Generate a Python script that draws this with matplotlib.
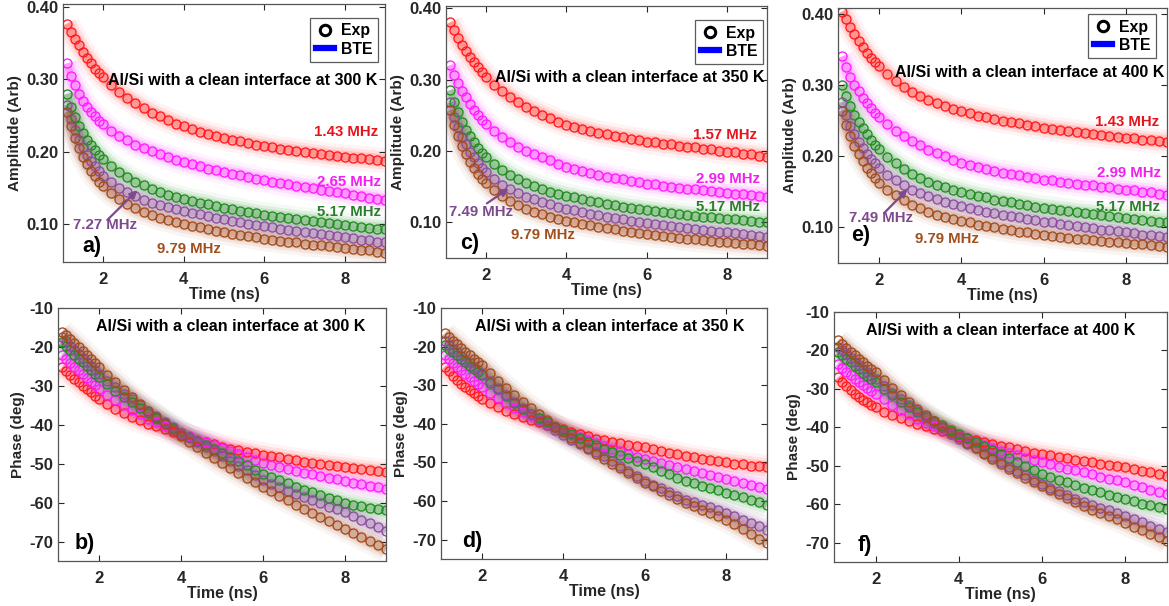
import matplotlib
matplotlib.use("Agg")
import matplotlib.pyplot as plt
from matplotlib.lines import Line2D

plt.rcParams['font.family'] = ['Liberation Sans', 'DejaVu Sans']
plt.rcParams['font.weight'] = 'bold'

# ---------------- data ----------------
T = [1.1, 1.2, 1.3, 1.4, 1.5, 1.6, 1.7, 1.8, 1.9, 2.0,
     2.2, 2.4, 2.6, 2.8, 3.0, 3.2, 3.4, 3.6, 3.8, 4.0,
     4.2, 4.4, 4.6, 4.8, 5.0, 5.2, 5.4, 5.6, 5.8, 6.0,
     6.2, 6.4, 6.6, 6.8, 7.0, 7.2, 7.4, 7.6, 7.8, 8.0,
     8.2, 8.4, 8.6, 8.8, 9.0]

# amplitude, 300 K
a_red = [0.377, 0.366, 0.356, 0.347, 0.338, 0.330, 0.322, 0.315, 0.309, 0.303,
         0.292, 0.282, 0.274, 0.267, 0.260, 0.254, 0.249, 0.244, 0.239, 0.235,
         0.231, 0.228, 0.225, 0.222, 0.219, 0.217, 0.215, 0.212, 0.210, 0.208,
         0.206, 0.204, 0.203, 0.201, 0.200, 0.198, 0.197, 0.195, 0.194, 0.193,
         0.192, 0.191, 0.190, 0.189, 0.188]
a_mag = [0.322, 0.305, 0.292, 0.280, 0.270, 0.262, 0.255, 0.249, 0.243, 0.238,
         0.229, 0.222, 0.216, 0.210, 0.205, 0.201, 0.197, 0.193, 0.189, 0.186,
         0.183, 0.180, 0.177, 0.175, 0.172, 0.170, 0.168, 0.165, 0.163, 0.161,
         0.159, 0.157, 0.155, 0.153, 0.151, 0.150, 0.148, 0.146, 0.145, 0.143,
         0.141, 0.139, 0.137, 0.135, 0.133]
a_grn = [0.280, 0.262, 0.248, 0.236, 0.226, 0.217, 0.209, 0.202, 0.196, 0.190,
         0.180, 0.172, 0.165, 0.159, 0.154, 0.149, 0.145, 0.141, 0.138, 0.135,
         0.132, 0.130, 0.128, 0.125, 0.123, 0.121, 0.119, 0.117, 0.115, 0.113,
         0.112, 0.110, 0.109, 0.107, 0.106, 0.105, 0.103, 0.102, 0.100, 0.099,
         0.098, 0.096, 0.095, 0.094, 0.093]
a_pur = [0.265, 0.245, 0.230, 0.217, 0.206, 0.196, 0.188, 0.180, 0.173, 0.167,
         0.158, 0.150, 0.144, 0.139, 0.134, 0.130, 0.127, 0.124, 0.121, 0.118,
         0.116, 0.114, 0.111, 0.109, 0.107, 0.105, 0.103, 0.101, 0.099, 0.097,
         0.096, 0.094, 0.092, 0.091, 0.089, 0.088, 0.086, 0.085, 0.084, 0.082,
         0.081, 0.079, 0.078, 0.076, 0.075]
a_brn = [0.255, 0.235, 0.219, 0.205, 0.193, 0.183, 0.174, 0.166, 0.159, 0.153,
         0.143, 0.135, 0.128, 0.122, 0.117, 0.113, 0.109, 0.106, 0.103, 0.100,
         0.098, 0.096, 0.093, 0.091, 0.089, 0.087, 0.085, 0.084, 0.082, 0.080,
         0.079, 0.077, 0.076, 0.075, 0.073, 0.072, 0.071, 0.070, 0.069, 0.067,
         0.066, 0.065, 0.064, 0.062, 0.061]

# amplitude, 350 K
c_red = [0.380, 0.369, 0.358, 0.349, 0.340, 0.332, 0.324, 0.317, 0.310, 0.304,
         0.293, 0.284, 0.276, 0.268, 0.262, 0.256, 0.251, 0.246, 0.241, 0.237,
         0.234, 0.231, 0.228, 0.225, 0.223, 0.221, 0.219, 0.217, 0.215, 0.213,
         0.212, 0.210, 0.209, 0.207, 0.206, 0.205, 0.203, 0.202, 0.200, 0.199,
         0.198, 0.196, 0.195, 0.193, 0.192]
c_mag = [0.320, 0.306, 0.295, 0.284, 0.275, 0.266, 0.258, 0.251, 0.244, 0.238,
         0.228, 0.220, 0.213, 0.206, 0.200, 0.195, 0.191, 0.187, 0.182, 0.178,
         0.175, 0.172, 0.169, 0.166, 0.164, 0.162, 0.160, 0.158, 0.156, 0.154,
         0.153, 0.151, 0.150, 0.148, 0.147, 0.146, 0.145, 0.144, 0.142, 0.141,
         0.140, 0.139, 0.138, 0.137, 0.136]
c_grn = [0.285, 0.268, 0.254, 0.241, 0.230, 0.221, 0.212, 0.204, 0.197, 0.191,
         0.181, 0.173, 0.166, 0.160, 0.155, 0.151, 0.147, 0.143, 0.140, 0.137,
         0.135, 0.132, 0.130, 0.128, 0.126, 0.124, 0.122, 0.120, 0.119, 0.117,
         0.116, 0.114, 0.113, 0.111, 0.110, 0.109, 0.108, 0.107, 0.106, 0.105,
         0.104, 0.103, 0.102, 0.101, 0.100]
c_pur = [0.268, 0.248, 0.233, 0.220, 0.209, 0.199, 0.191, 0.183, 0.176, 0.170,
         0.160, 0.152, 0.146, 0.141, 0.136, 0.132, 0.129, 0.125, 0.122, 0.119,
         0.117, 0.115, 0.112, 0.110, 0.108, 0.106, 0.104, 0.102, 0.101, 0.099,
         0.098, 0.096, 0.095, 0.093, 0.092, 0.091, 0.089, 0.088, 0.087, 0.086,
         0.085, 0.083, 0.082, 0.081, 0.080]
c_brn = [0.257, 0.237, 0.221, 0.207, 0.195, 0.185, 0.176, 0.168, 0.161, 0.155,
         0.145, 0.137, 0.130, 0.124, 0.119, 0.115, 0.111, 0.108, 0.105, 0.102,
         0.100, 0.098, 0.096, 0.094, 0.092, 0.090, 0.088, 0.087, 0.085, 0.084,
         0.082, 0.081, 0.080, 0.078, 0.077, 0.076, 0.075, 0.074, 0.073, 0.072,
         0.071, 0.070, 0.069, 0.068, 0.067]

# amplitude, 400 K
e_red = [0.403, 0.392, 0.381, 0.371, 0.362, 0.353, 0.345, 0.338, 0.332, 0.326,
         0.315, 0.305, 0.297, 0.290, 0.284, 0.279, 0.275, 0.271, 0.266, 0.263,
         0.260, 0.257, 0.255, 0.252, 0.250, 0.248, 0.246, 0.244, 0.242, 0.240,
         0.238, 0.237, 0.235, 0.234, 0.232, 0.231, 0.230, 0.228, 0.227, 0.226,
         0.225, 0.223, 0.222, 0.221, 0.220]
e_mag = [0.340, 0.325, 0.311, 0.300, 0.291, 0.282, 0.274, 0.267, 0.261, 0.255,
         0.245, 0.236, 0.228, 0.221, 0.215, 0.209, 0.204, 0.200, 0.195, 0.191,
         0.188, 0.185, 0.182, 0.179, 0.177, 0.175, 0.173, 0.171, 0.169, 0.167,
         0.166, 0.164, 0.163, 0.161, 0.160, 0.159, 0.157, 0.156, 0.154, 0.153,
         0.152, 0.150, 0.149, 0.147, 0.146]
e_grn = [0.300, 0.284, 0.270, 0.258, 0.248, 0.239, 0.231, 0.223, 0.216, 0.210,
         0.199, 0.190, 0.182, 0.175, 0.169, 0.164, 0.160, 0.156, 0.153, 0.150,
         0.147, 0.144, 0.142, 0.139, 0.137, 0.135, 0.133, 0.131, 0.129, 0.127,
         0.126, 0.124, 0.123, 0.121, 0.120, 0.119, 0.117, 0.116, 0.115, 0.113,
         0.112, 0.111, 0.109, 0.108, 0.107]
e_pur = [0.276, 0.258, 0.243, 0.231, 0.220, 0.211, 0.203, 0.196, 0.190, 0.184,
         0.174, 0.166, 0.159, 0.153, 0.148, 0.144, 0.140, 0.136, 0.133, 0.130,
         0.127, 0.125, 0.122, 0.120, 0.118, 0.116, 0.114, 0.112, 0.110, 0.108,
         0.107, 0.105, 0.103, 0.102, 0.100, 0.099, 0.097, 0.096, 0.095, 0.093,
         0.092, 0.090, 0.089, 0.088, 0.086]
e_brn = [0.264, 0.244, 0.228, 0.214, 0.203, 0.193, 0.184, 0.176, 0.169, 0.163,
         0.153, 0.145, 0.138, 0.132, 0.127, 0.122, 0.118, 0.115, 0.112, 0.109,
         0.107, 0.104, 0.102, 0.100, 0.098, 0.096, 0.094, 0.093, 0.091, 0.090,
         0.088, 0.087, 0.085, 0.084, 0.083, 0.082, 0.081, 0.080, 0.079, 0.078,
         0.077, 0.076, 0.075, 0.074, 0.073]

# phase, 300 K
b_red = [-25.2, -26.2, -27.2, -28.2, -29.1, -30.0, -30.9, -31.7, -32.5, -33.3,
         -34.7, -35.9, -37.0, -38.0, -38.9, -39.7, -40.4, -41.1, -41.8, -42.5,
         -43.1, -43.8, -44.4, -45.0, -45.6, -46.1, -46.5, -46.9, -47.3, -47.7,
         -48.1, -48.4, -48.8, -49.1, -49.5, -49.8, -50.0, -50.3, -50.5, -50.8,
         -51.1, -51.4, -51.6, -51.9, -52.1]
b_mag = [-22.1, -23.1, -24.1, -25.1, -26.0, -27.0, -27.9, -28.9, -29.8, -30.7,
         -32.3, -33.7, -35.0, -36.2, -37.3, -38.4, -39.4, -40.3, -41.3, -42.2,
         -43.0, -43.8, -44.5, -45.3, -46.0, -46.8, -47.5, -48.2, -49.0, -49.7,
         -50.3, -50.8, -51.3, -51.8, -52.3, -52.7, -53.2, -53.6, -54.0, -54.5,
         -54.9, -55.3, -55.7, -56.1, -56.5]
b_grn = [-18.7, -19.8, -20.9, -22.0, -23.0, -24.0, -25.0, -26.0, -26.9, -27.8,
         -29.6, -31.2, -32.8, -34.2, -35.6, -37.0, -38.3, -39.6, -40.9, -42.1,
         -43.1, -44.1, -45.2, -46.2, -47.2, -48.2, -49.2, -50.4, -51.6, -52.6,
         -53.4, -54.2, -55.0, -55.9, -56.7, -57.4, -58.0, -58.7, -59.4, -60.1,
         -60.5, -60.9, -61.3, -61.7, -62.0]
b_pur = [-17.5, -18.6, -19.7, -20.8, -21.9, -22.9, -23.9, -24.9, -25.9, -26.9,
         -28.7, -30.4, -32.0, -33.5, -35.0, -36.4, -37.8, -39.2, -40.6, -42.0,
         -43.2, -44.4, -45.6, -46.8, -48.0, -49.3, -50.5, -51.7, -53.0, -54.2,
         -55.1, -56.0, -56.9, -57.8, -58.6, -59.4, -60.2, -61.0, -61.7, -62.5,
         -63.4, -64.4, -65.3, -66.3, -67.2]
b_brn = [-16.1, -17.0, -18.0, -19.0, -20.0, -21.0, -22.1, -23.1, -24.2, -25.2,
         -27.2, -29.1, -31.0, -32.9, -34.7, -36.4, -38.1, -39.8, -41.4, -43.0,
         -44.4, -45.8, -47.2, -48.6, -49.9, -51.1, -52.4, -53.6, -54.8, -56.0,
         -57.1, -58.2, -59.4, -60.5, -61.6, -62.6, -63.7, -64.7, -65.8, -66.8,
         -67.8, -68.9, -69.9, -71.0, -72.0]

# phase, 350 K
d_red = [-25.2, -26.4, -27.5, -28.6, -29.6, -30.5, -31.3, -32.1, -32.8, -33.5,
         -34.7, -35.7, -36.6, -37.5, -38.3, -39.0, -39.6, -40.2, -40.8, -41.4,
         -42.0, -42.6, -43.2, -43.8, -44.3, -44.7, -45.0, -45.4, -45.8, -46.1,
         -46.6, -47.0, -47.5, -47.9, -48.3, -48.7, -49.0, -49.3, -49.7, -50.0,
         -50.3, -50.5, -50.8, -51.0, -51.3]
d_mag = [-22.2, -23.2, -24.2, -25.2, -26.1, -27.0, -27.9, -28.8, -29.6, -30.4,
         -31.9, -33.4, -34.7, -35.9, -37.0, -38.0, -38.9, -39.8, -40.8, -41.7,
         -42.5, -43.3, -44.1, -44.9, -45.7, -46.4, -47.1, -47.8, -48.5, -49.1,
         -49.6, -50.2, -50.7, -51.2, -51.7, -52.2, -52.8, -53.3, -53.8, -54.3,
         -54.8, -55.4, -55.9, -56.4, -56.9]
d_grn = [-19.6, -20.5, -21.4, -22.3, -23.2, -24.1, -25.0, -25.8, -26.6, -27.4,
         -29.3, -31.1, -32.9, -34.6, -36.1, -37.4, -38.5, -39.6, -40.7, -41.7,
         -42.7, -43.7, -44.6, -45.6, -46.5, -47.3, -48.1, -48.9, -49.7, -50.4,
         -51.3, -52.2, -53.1, -54.0, -54.8, -55.4, -56.0, -56.6, -57.2, -57.8,
         -58.4, -59.0, -59.7, -60.3, -60.9]
d_pur = [-18.5, -19.5, -20.5, -21.5, -22.5, -23.4, -24.3, -25.2, -26.1, -27.0,
         -28.9, -30.7, -32.5, -34.3, -36.0, -37.5, -38.9, -40.3, -41.7, -43.0,
         -44.1, -45.1, -46.2, -47.2, -48.3, -49.6, -50.9, -52.2, -53.5, -54.8,
         -55.8, -56.7, -57.7, -58.6, -59.6, -60.3, -61.0, -61.6, -62.3, -63.0,
         -63.9, -64.8, -65.6, -66.5, -67.4]
d_brn = [-16.5, -17.5, -18.5, -19.4, -20.4, -21.3, -22.2, -23.1, -23.9, -24.8,
         -26.8, -28.8, -30.7, -32.5, -34.3, -35.9, -37.5, -39.1, -40.7, -42.2,
         -43.6, -45.0, -46.4, -47.8, -49.1, -50.3, -51.5, -52.8, -54.0, -55.2,
         -56.2, -57.3, -58.3, -59.4, -60.4, -61.3, -62.2, -63.0, -63.9, -64.8,
         -66.0, -67.2, -68.5, -69.7, -70.9]

# phase, 400 K
f_red = [-27.0, -28.2, -29.3, -30.3, -31.3, -32.1, -32.8, -33.5, -34.2, -34.8,
         -35.9, -36.8, -37.6, -38.4, -39.1, -39.7, -40.3, -40.9, -41.6, -42.2,
         -42.7, -43.2, -43.8, -44.3, -44.8, -45.2, -45.7, -46.1, -46.6, -47.0,
         -47.3, -47.7, -48.0, -48.4, -48.7, -49.0, -49.4, -49.7, -50.1, -50.4,
         -50.8, -51.3, -51.7, -52.2, -52.6]
f_mag = [-23.5, -24.5, -25.5, -26.5, -27.4, -28.2, -29.0, -29.8, -30.6, -31.3,
         -32.7, -34.1, -35.4, -36.6, -37.8, -38.8, -39.7, -40.5, -41.4, -42.2,
         -43.0, -43.8, -44.6, -45.3, -46.1, -46.7, -47.3, -47.9, -48.5, -49.1,
         -49.6, -50.2, -50.7, -51.2, -51.7, -52.2, -52.8, -53.3, -53.8, -54.3,
         -54.9, -55.5, -56.2, -56.8, -57.4]
f_grn = [-20.4, -21.3, -22.2, -23.1, -24.0, -24.9, -25.8, -26.6, -27.5, -28.3,
         -30.0, -31.7, -33.3, -34.8, -36.1, -37.3, -38.4, -39.5, -40.6, -41.7,
         -42.8, -43.8, -44.9, -45.9, -47.0, -48.0, -49.1, -50.1, -51.2, -52.2,
         -52.9, -53.6, -54.3, -55.0, -55.7, -56.3, -56.9, -57.5, -58.1, -58.7,
         -59.2, -59.8, -60.3, -60.8, -61.3]
f_pur = [-19.0, -20.0, -21.0, -21.9, -22.9, -23.8, -24.8, -25.7, -26.6, -27.5,
         -29.3, -31.0, -32.6, -34.2, -35.8, -37.3, -38.8, -40.2, -41.6, -43.0,
         -44.2, -45.4, -46.6, -47.8, -49.0, -50.2, -51.3, -52.4, -53.6, -54.7,
         -55.7, -56.6, -57.6, -58.5, -59.5, -60.2, -60.9, -61.6, -62.3, -63.0,
         -63.9, -64.7, -65.6, -66.4, -67.3]
f_brn = [-17.4, -18.4, -19.4, -20.4, -21.3, -22.2, -23.1, -24.0, -24.8, -25.7,
         -27.7, -29.7, -31.6, -33.4, -35.2, -36.8, -38.3, -39.8, -41.2, -42.6,
         -44.0, -45.4, -46.8, -48.2, -49.6, -50.8, -51.9, -53.1, -54.2, -55.3,
         -56.4, -57.4, -58.4, -59.5, -60.5, -61.4, -62.2, -63.1, -63.9, -64.8,
         -65.8, -66.7, -67.6, -68.6, -69.6]

freqs_300 = ['1.43 MHz', '2.65 MHz', '5.17 MHz', '7.27 MHz', '9.79 MHz']
freqs_350 = ['1.57 MHz', '2.99 MHz', '5.17 MHz', '7.49 MHz', '9.79 MHz']
freqs_400 = ['1.43 MHz', '2.99 MHz', '5.17 MHz', '7.49 MHz', '9.79 MHz']
temps = ['300 K', '350 K', '400 K']
amp_ticks = [0.10, 0.20, 0.30, 0.40]
phase_ticks = [-70, -60, -50, -40, -30, -20, -10]
time_ticks = [2, 4, 6, 8]

# ---------------- style ----------------
COLS = ['#FF1A1A', '#FF1AFF', '#1F8C1F', '#8A4E9C', '#A24A1C']
TXTC = ['#E8141C', '#F020F0', '#2A7F2A', '#7E4A8E', '#A0501E']
DARK = '#262626'

fig = plt.figure(figsize=(11.69, 6.06), dpi=100)
W, H = 1169.0, 606.0


def box(l, t, r, b):
    return [l / W, 1 - b / H, (r - l) / W, (b - t) / H]


def style(ax, ylab, yticks, fmt):
    ax.set_xlim(1, 9)
    ax.set_xticks(time_ticks)
    ax.set_yticks(yticks)
    ax.set_yticklabels([fmt % v for v in yticks])
    ax.tick_params(direction='in', top=True, right=True, length=4, width=0.8,
                   labelsize=12, colors=DARK, labelcolor=DARK)
    ax.tick_params(axis='x', pad=7)
    ax.tick_params(axis='y', pad=3.5)
    for lab in ax.get_xticklabels() + ax.get_yticklabels():
        lab.set_fontweight('bold')
    for s in ax.spines.values():
        s.set_color('#555555')
        s.set_linewidth(0.9)
    ax.set_xlabel('Time (ns)', fontsize=11.5, fontweight='bold', color=DARK, labelpad=0)
    ax.set_ylabel(ylab, fontsize=11, fontweight='bold', color=DARK, labelpad=3)


def draw(ax, series):
    for ys, c in zip(series, COLS):
        for lw, al in [(18, 0.05), (13, 0.09), (9, 0.15), (5, 0.25)]:
            ax.plot(T, ys, color=c, lw=lw, alpha=al, solid_capstyle='butt', zorder=1)
        ax.plot(T, ys, ls='none', marker='o', ms=6.5, mfc='none', mec=c, mew=0.95,
                zorder=2, clip_on=True)


def legend(ax, x, y):
    h = [Line2D([], [], ls='none', marker='o', ms=7.5, mfc='none', mec='k', mew=2.2),
         Line2D([], [], color='#0000FF', lw=4.5)]
    lg = ax.legend(h, ['Exp', 'BTE'], loc='upper right', bbox_to_anchor=(x, y),
                   borderaxespad=0, fancybox=False, edgecolor='#333333',
                   handlelength=1.15, handletextpad=0.45, borderpad=0.35,
                   labelspacing=0.2, prop={'weight': 'bold', 'size': 11.4})
    lg.get_frame().set_linewidth(0.9)
    lg.set_zorder(5)


amp_series = [[a_red, a_mag, a_grn, a_pur, a_brn],
              [c_red, c_mag, c_grn, c_pur, c_brn],
              [e_red, e_mag, e_grn, e_pur, e_brn]]
ph_series = [[b_red, b_mag, b_grn, b_pur, b_brn],
             [d_red, d_mag, d_grn, d_pur, d_brn],
             [f_red, f_mag, f_grn, f_pur, f_brn]]
freq_lists = [freqs_300, freqs_350, freqs_400]

amp_boxes = [box(63, 4, 385, 262), box(446, 6, 767, 258), box(838, 8, 1167, 263)]
ph_boxes = [box(58, 308, 386, 561), box(441, 308, 767, 559), box(834, 312, 1167, 562)]
amp_ylims = [(0.048, 0.404), (0.050, 0.403), (0.050, 0.408)]

# text positions (data coordinates)
title_amp = [(5.46, 0.299), (5.57, 0.303), (5.65, 0.318)]
title_ph = [(5.2, -14.8), (5.14, -14.8), (5.0, -14.8)]
lab_hi = [[(8.03, 0.228), (8.10, 0.159), (8.11, 0.1166)],
          [(7.96, 0.222), (8.02, 0.160), (8.03, 0.121)],
          [(8.03, 0.248), (8.07, 0.176), (8.06, 0.128)]]
lab_pur = [(2.05, 0.0986), (1.87, 0.114), (2.04, 0.113)]
lab_brn = [(4.12, 0.066), (3.42, 0.082), (3.66, 0.0837)]
arrows = [((2.10, 0.106), (2.85, 0.147)),
          ((2.02, 0.1265), (2.56, 0.1474)),
          ((2.12, 0.120), (2.69, 0.1536))]
amp_tags = ['a)', 'c)', 'e)']
ph_tags = ['b)', 'd)', 'f)']
amp_tag_pos = [(1.73, 0.070), (1.6, 0.071), (1.55, 0.088)]
ph_tag_pos = [(1.66, -70.6), (1.76, -70.5), (1.73, -70.6)]
leg_pos = [(0.978, 0.946), (0.9875, 0.944), (0.9666, 0.976)]

for i in range(3):
    ax = fig.add_axes(amp_boxes[i])
    draw(ax, amp_series[i])
    ax.set_ylim(*amp_ylims[i])
    style(ax, 'Amplitude (Arb)', amp_ticks, '%.2f')
    ax.text(*title_amp[i], 'Al/Si with a clean interface at ' + temps[i],
            ha='center', va='center', fontsize=11.5, fontweight='bold', color='k', zorder=6)
    fl = freq_lists[i]
    for k in range(3):
        ax.text(*lab_hi[i][k], fl[k], ha='center', va='center', fontsize=10.8,
                fontweight='bold', color=TXTC[k], zorder=6)
    ax.text(*lab_pur[i], fl[3], ha='center', va='center', fontsize=10.8,
            fontweight='bold', color=TXTC[3], zorder=6)
    ax.text(*lab_brn[i], fl[4], ha='center', va='center', fontsize=10.8,
            fontweight='bold', color=TXTC[4], zorder=6)
    (x0, y0), (x1, y1) = arrows[i]
    ax.annotate('', xy=(x1, y1), xytext=(x0, y0),
                arrowprops=dict(arrowstyle='-|>', color=TXTC[3], lw=1.6,
                                mutation_scale=11, shrinkA=0, shrinkB=0), zorder=6)
    ax.text(*amp_tag_pos[i], amp_tags[i], ha='center', va='center', fontsize=15.5,
            fontweight='bold', color='k', zorder=6)
    legend(ax, *leg_pos[i])

    ax2 = fig.add_axes(ph_boxes[i])
    draw(ax2, ph_series[i])
    ax2.set_ylim(-75, -10)
    style(ax2, 'Phase (deg)', phase_ticks, '%d')
    ax2.text(*title_ph[i], 'Al/Si with a clean interface at ' + temps[i],
             ha='center', va='center', fontsize=11.5, fontweight='bold', color='k', zorder=6)
    ax2.text(*ph_tag_pos[i], ph_tags[i], ha='center', va='center', fontsize=15.5,
             fontweight='bold', color='k', zorder=6)

fig.savefig('out.png', dpi=100)
